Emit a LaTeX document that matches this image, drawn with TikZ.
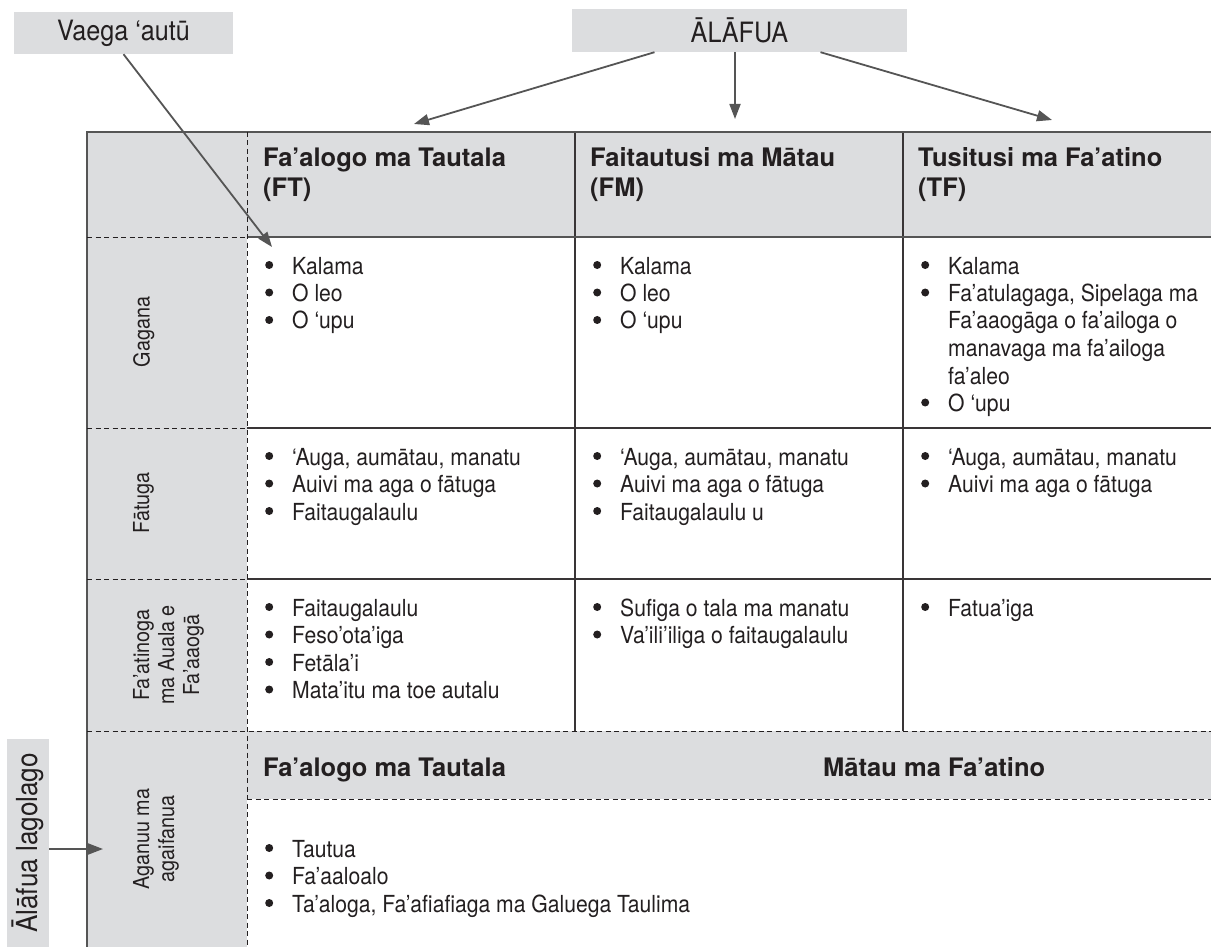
\documentclass[tikz,border=0pt]{standalone}
\usepackage{fontspec}
\setmainfont{TeX Gyre Heros}
\newfontfamily\condfont{TeX Gyre Heros}[FakeStretch=0.9]
\usetikzlibrary{arrows.meta}
\definecolor{panel}{RGB}{220,221,223}
\definecolor{ink}{RGB}{35,31,32}
\definecolor{rule}{RGB}{85,85,85}
\newcommand{\bl}{\makebox[27pt][l]{\tikz[baseline=0pt]\fill[ink] (4pt,9pt) circle[radius=4pt];}}
\newcommand{\nb}{\hspace*{27pt}}
\tikzset{
  banner/.style={fill=panel, inner sep=0pt, text=ink, font=\condfont\fontsize{28}{32}\selectfont},
  head label/.style={anchor=base west, inner sep=0pt, text=ink, font=\bfseries\fontsize{25.5}{30}\selectfont},
  item list/.style={anchor=base west, inner sep=0pt, text=ink, font=\condfont\fontsize{23.5}{27.5}\selectfont},
  row label/.style={rotate=90, anchor=north, align=center, inner sep=0pt, text=ink, font=\condfont\fontsize{22}{25}\selectfont},
  frame line/.style={draw=rule, line width=2pt},
  grid line/.style={draw=ink!90, line width=1.5pt},
  dash line/.style={draw=ink, line width=1pt, dash pattern=on 5pt off 3.5pt},
  link/.style={draw=rule, line width=1.8pt, arrows={-Triangle[length=15pt,width=11pt]}}
}

\begin{document}
\begin{tikzpicture}[x=1pt, y=-1pt]
  \useasboundingbox (0,0) rectangle (1211,947);

  \fill[panel] (87,132) rectangle (1211,237);
  \fill[panel] (87,237) rectangle (247,947);
  \fill[panel] (247,731) rectangle (1211,799);

  \draw[grid line] (247,428) -- (1211,428);
  \draw[grid line] (247,579) -- (1211,579);
  \draw[grid line] (575,132) -- (575,731);
  \draw[grid line] (903,132) -- (903,731);
  \draw[frame line] (247,237) -- (1211,237);
  \draw[frame line] (87,947) -- (87,132) -- (1211,132);

  \draw[dash line] (87,237) -- (247,237);
  \draw[dash line] (87,428) -- (247,428);
  \draw[dash line] (87,579) -- (247,579);
  \draw[dash line] (87,731) -- (1211,731);
  \draw[dash line] (247,799) -- (1211,799);
  \draw[dash line] (247,132) -- (247,947);

  \node[banner, minimum width=219pt, minimum height=42pt] (vaega) at (123.5,33) {Vaega ‘autū};
  \node[banner, minimum width=335pt, minimum height=43pt] (alafua) at (739.5,30.5) {ĀLĀFUA};
  \node[banner, rotate=90, minimum width=208pt, minimum height=42pt,
        font=\condfont\fontsize{29}{32}\selectfont] (lagolago) at (28,843) {Ālāfua lagolago};

  \node[head label] (ft head) at (263,167) {\begin{tabular}[t]{@{}l@{}}Fa’alogo ma Tautala\\(FT)\end{tabular}};
  \node[head label] (fm head) at (590,167) {\begin{tabular}[t]{@{}l@{}}Faitautusi ma Mātau\\(FM)\end{tabular}};
  \node[head label] (tf head) at (918,167) {\begin{tabular}[t]{@{}l@{}}Tusitusi ma Fa’atino\\(TF)\end{tabular}};

  \node[row label] (gagana) at (133,332) {Gagana};
  \node[row label] (fatuga) at (133,503) {Fātuga};
  \node[row label] (faatinoga) at (133,655) {Fa’atinoga\\ma Auala e\\Fa’aaogā};
  \node[row label] (aganuu) at (133,839) {Aganuu ma\\agaifanua};

  \node[item list] (gagana ft) at (265,274) {\begin{tabular}[t]{@{}l@{}}\bl Kalama\\\bl O leo\\\bl O ‘upu\end{tabular}};
  \node[item list] (gagana fm) at (593,274) {\begin{tabular}[t]{@{}l@{}}\bl Kalama\\\bl O leo\\\bl O ‘upu\end{tabular}};
  \node[item list] (gagana tf) at (921,274) {\begin{tabular}[t]{@{}l@{}}\bl Kalama\\\bl Fa’atulagaga, Sipelaga ma\\\nb Fa’aaogāga o fa’ailoga o\\\nb manavaga ma fa’ailoga\\\nb fa’aleo\\\bl O ‘upu\end{tabular}};

  \node[item list] (fatuga ft) at (265,465) {\begin{tabular}[t]{@{}l@{}}\bl ‘Auga, aumātau, manatu\\\bl Auivi ma aga o fātuga\\\bl Faitaugalaulu\end{tabular}};
  \node[item list] (fatuga fm) at (593,465) {\begin{tabular}[t]{@{}l@{}}\bl ‘Auga, aumātau, manatu\\\bl Auivi ma aga o fātuga\\\bl Faitaugalaulu u\end{tabular}};
  \node[item list] (fatuga tf) at (921,465) {\begin{tabular}[t]{@{}l@{}}\bl ‘Auga, aumātau, manatu\\\bl Auivi ma aga o fātuga\end{tabular}};

  \node[item list] (faatinoga ft) at (265,616) {\begin{tabular}[t]{@{}l@{}}\bl Faitaugalaulu\\\bl Feso’ota’iga\\\bl Fetāla’i\\\bl Mata’itu ma toe autalu\end{tabular}};
  \node[item list] (faatinoga fm) at (593,616) {\begin{tabular}[t]{@{}l@{}}\bl Sufiga o tala ma manatu\\\bl Va’ili’iliga o faitaugalaulu\end{tabular}};
  \node[item list] (faatinoga tf) at (921,616) {\begin{tabular}[t]{@{}l@{}}\bl Fatua’iga\end{tabular}};

  \node[head label] (aganuu ft) at (263,776) {Fa’alogo ma Tautala};
  \node[head label] (aganuu mf) at (823,776) {Mātau ma Fa’atino};
  \node[item list] (aganuu list) at (265,857) {\begin{tabular}[t]{@{}l@{}}\bl Tautua\\\bl Fa’aaloalo\\\bl Ta’aloga, Fa’afiafiaga ma Galuega Taulima\end{tabular}};

  \coordinate (vaega tip) at (272,247);
  \coordinate (ft tip) at (414,124);
  \coordinate (fm tip) at (735,119);
  \coordinate (tf tip) at (1052,120);
  \coordinate (lagolago tip) at (103,849);

  \draw[link] (vaega.south) -- (vaega tip);
  \draw[link] ([xshift=-85pt]alafua.south) -- (ft tip);
  \draw[link] (alafua.south -| fm tip) -- (fm tip);
  \draw[link] ([xshift=81pt]alafua.south) -- (tf tip);
  \draw[link] (lagolago.south |- lagolago tip) -- (lagolago tip);
\end{tikzpicture}
\end{document}
